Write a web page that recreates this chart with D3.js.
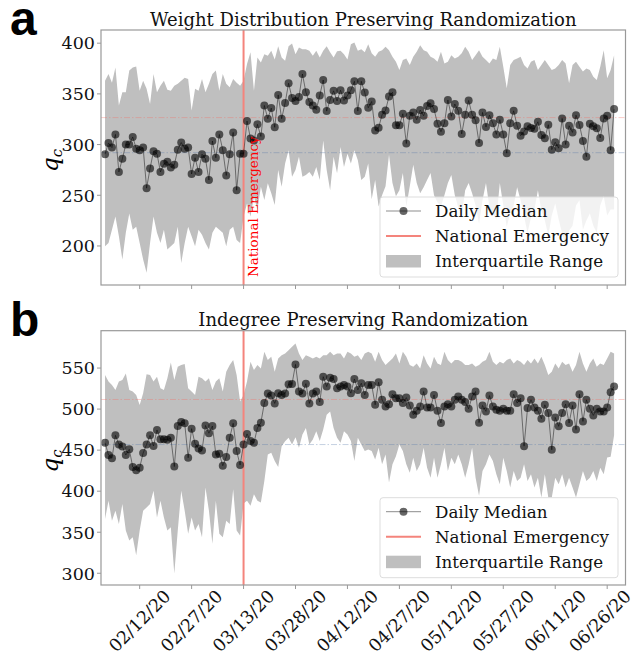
<!DOCTYPE html>
<html>
<head>
<meta charset="utf-8">
<script src="https://cdn.jsdelivr.net/npm/d3@7"></script>
<style>
  html, body { margin: 0; padding: 0; background: #fff; }
  svg { display: block; }
  text { font-family: "DejaVu Serif", serif; }
</style>
</head>
<body>
<svg id="chart" width="636" height="657"></svg>
<script>
// first day of the series, one point per day
const START_DATE = "2020-02-02";
const TICK_LABELS = ["02/12/20", "02/27/20", "03/13/20", "03/28/20", "04/12/20",
                     "04/27/20", "05/12/20", "05/27/20", "06/11/20", "06/26/20"];
const EMERGENCY = "03/13/20";

// panel a: weight distribution preserving randomization
const aMedian = [290.5, 301.6, 297, 310, 273, 286, 300, 300, 307.5, 296, 294.5, 297, 257, 276.5, 293.5, 291, 273, 281, 283, 277.5,
  280, 295, 302, 296, 297, 271, 287, 273, 290.5, 286, 265, 303.5, 287, 310, 294.5, 269.5, 290.5, 312, 255, 291, 291,
  323.2, 306, 304, 320, 308, 338.6, 325.5, 336, 317, 349, 325.5, 341, 360.5, 346, 343, 347, 369.6, 351.6, 342, 338.6,
  334.3, 348.4, 363.7, 333, 344, 353, 343, 353.6, 343.5, 348.4, 353.6, 362.4, 333, 362.4, 351.3, 336.3,
  342.5, 314, 316.7, 329.4, 333.7, 347.4, 351.6, 319, 319, 330.4, 301, 328.4, 331.7, 324.5, 334, 328.4, 338, 340.8, 335,
  320.6, 312.7, 321, 344, 327.8, 340, 333.3, 310.5, 329.4, 343.5, 329.4, 323.9, 301.6, 331.7, 317.3, 329, 321, 310, 324.5,
  310, 291.5, 321, 333.3, 318.6, 308.8, 313, 318, 316.3, 315.7, 322.5, 309.5, 306.2, 319.6, 295, 302.3, 296.4, 325.8, 300,
  318.6, 312, 329, 319.3, 303.6, 288, 320.6, 318, 316, 306.5, 325.8, 328.4, 294.4, 335];
const aQ3 = [363, 369.6, 361, 376, 338.5, 351.6, 351.6, 373, 376, 377, 353, 363, 355, 340, 369.6, 351.6, 358, 363, 354, 353,
  358, 360, 363, 366, 364.7, 333.7, 355, 353, 364.7, 351.6, 360, 369.6, 373, 353, 369.6, 360, 356.5, 364.7, 361, 358, 363,
  379.4, 391, 353, 386, 381, 389, 387.6, 392.5, 384, 397, 386, 382.7, 397, 399.7, 389, 395.8, 394, 394, 392.5, 387.6,
  392.5, 386, 392.5, 397, 391, 386, 392, 392.5, 389, 384, 399, 400.6, 392.5, 394, 391, 399,
  390, 386.6, 391.5, 393, 396.4, 393, 386.6, 381.7, 373.5, 383.3, 385, 378.4, 386.6, 391.5, 398, 393, 391.5, 386.6, 385,
  381.7, 391.5, 380, 381.7, 388, 385, 386.6, 390, 396.4, 391.5, 383.3, 388, 393, 386.6, 383.3, 380, 385, 383.3, 396.4,
  376.8, 355.6, 378.4, 383.3, 385, 386.6, 378.4, 375, 381.7, 383.3, 373.5, 378.4, 383.3, 378.4, 373.5, 375, 378.4, 383.3,
  380, 360.5, 378.4, 381.7, 376.8, 372, 375, 373.5, 367, 363.7, 376.8, 393, 365.4, 373.5, 388];
const aQ1 = [199.7, 203, 216, 229, 209.5, 186.6, 213, 232, 216, 219, 203, 186.6, 173.5, 203, 229, 213, 203, 216, 196.6, 199.7,
  203, 219, 183.3, 203, 219, 209.5, 199.7, 216, 211, 203, 196.6, 213, 219, 216, 213, 199.7, 216, 219, 206, 203, 229,
  242, 229, 248.7, 235.6, 258.5, 245.4, 261.8, 252, 240.5, 274.8, 258.5, 281.4, 294.4, 268.3, 274.8, 288, 268.3, 270, 273,
  268.3, 278, 265, 304, 274.8, 255, 288, 271.6, 297.7, 278, 291, 281.4, 294.4, 284.6, 265, 268.3, 281.4,
  246, 265, 239, 250, 259, 290, 262, 249, 255, 272, 239, 259, 280, 262, 252, 258, 265, 272, 250, 243, 239, 250, 262, 270,
  250, 238, 230, 255, 262, 252, 240, 222, 245, 262, 238, 232, 226, 262, 240, 219, 232, 240, 258, 245, 229, 213, 228, 236,
  255, 235, 225, 210, 230, 242, 226, 212, 200, 215, 220, 240, 245, 216, 225, 232, 220, 213, 240, 249, 230, 236, 236];

// panel b: indegree preserving randomization
const bMedian = [459, 444, 440, 468, 457, 454.4, 444, 451, 429.4, 425.4, 428.6, 446.4, 457, 468, 455, 474.6, 463.3, 463.3,
  462.5, 465, 430, 479.4, 484.3, 482.7, 440.7, 476.2, 457.7, 452, 449.6, 480, 470.6, 479.4, 444.8, 445.6, 431, 441.5, 465,
  482.7, 448.8, 431.8, 457,
  469.8, 461, 458.9, 477, 483.5, 507.3, 519, 516.5, 506.9, 519.4, 517.3, 519, 530.2, 530.6, 554.4, 521.4, 519, 531, 506.9,
  519, 521.4, 508.5, 539.5, 527.4, 538.3, 536.7, 525.4, 527.4, 529.4, 527.4, 519.4, 536.7, 523.4, 531.5, 517.3, 529.4,
  529.4, 505.2, 532.7, 511.3, 503.2, 506, 518.1, 513.3, 513.3, 507.3, 514, 504.4, 493.1, 498, 503.2, 521.4, 502, 502,
  517.3, 498, 483, 503.2, 506, 503.2, 511.3, 515.3, 511.3, 508.5, 500.4, 515.3, 521.4, 483.5, 504.4, 497.2, 516.5, 503.2,
  499.2, 498,
  500.4, 498, 498, 518.1, 507.3, 513.3, 454.8, 501.2, 511.3, 502, 498, 488.3, 505.2, 495.2, 450.4, 489.9, 479, 495.2, 506,
  483, 504.4, 475, 518.1, 485, 511.3, 500.4, 492.3, 500.4, 497.2, 497.2, 502, 520.6, 527.4];
const bQ3 = [541.5, 533.5, 529.4, 523.4, 533.5, 535.5, 543.5, 523.4, 521.4, 517.3, 505, 519.4, 542.3, 541.5, 533.5, 539.5,
  525.4, 523.4, 537.5, 556.9, 535.5, 551.6, 553.6, 554.8, 525.4, 521.4, 517.3, 539.5, 537.5, 533.5, 537.5, 523.4, 533.5,
  537.5, 521.4, 545.6, 553.6, 559.7, 541.5, 509.3, 517.3,
  533.5, 557.7, 547.6, 553.6, 549.6, 569.8, 559.7, 563.7, 545.6, 561.7, 565.7, 567.7, 571.8, 575.8, 579.8, 567.7, 559.7,
  565.7, 563.7, 561.7, 563.7, 561.7, 565.7, 565.7, 569.8, 565.7, 567.7, 567.7, 561.7, 569.8, 567.7, 563.7, 565.7, 559.7,
  567.7, 569.8,
  567.7, 557.7, 569.8, 559.7, 553.6, 557.7, 561.7, 567.7, 555.6, 569.8, 563.7, 553.6, 551.6, 555.6, 549.6, 565.7, 555.6,
  549.6, 563.7, 555.6, 553.6, 569.8, 559.7, 555.6, 559.7, 559.7, 557.7, 553.6, 553.6, 555.6, 551.6, 553.6, 557.7, 559.7,
  569.8, 557.7, 553.6, 557.7,
  555.6, 559.7, 561.7, 555.6, 559.7, 557.7, 553.6, 559.7, 555.6, 561.7, 555.6, 563.7, 553.6, 541.5, 545.6, 555.6, 549.6,
  557.7, 553.6, 555.6, 545.6, 553.6, 569.8, 555.6, 545.6, 555.6, 561.7, 551.6, 555.6, 553.6, 561.7, 569.8, 567.7];
const bQ1 = [366, 388.3, 364, 376.2, 360, 384.3, 352, 340, 344, 321.8, 352, 376.2, 380.2, 384.3, 400.4, 368, 388.3, 368, 352,
  356, 299.6, 352, 400.4, 376.2, 348, 368, 352, 360, 344, 404.4, 376.2, 336, 388.3, 348, 344, 364, 360, 402.4, 352, 346, 385,
  388.3, 382.3, 396.4, 388.3, 386.3, 412.5, 444.8, 446.8, 436.7, 429.4, 454.8, 460.9, 465, 456.9, 465.7, 452.8, 469, 477,
  456.9, 462.9, 473, 461, 475, 493, 497, 477, 465, 458.9, 473, 469, 461, 436.7, 465, 456.9, 448.8, 450.8,
  448.8, 438.7, 452.8, 432.7, 444.8, 410.5, 432.7, 442.7, 456.9, 448.8, 432.7, 422.6, 440.7, 424.6, 432.7, 452.8, 428.6,
  416.5, 440.7, 416.5, 432.7, 452.8, 424.6, 440.7, 432.7, 444.8, 432.7, 416.5, 432.7, 452.8, 416.5, 394.4, 424.6, 432.7,
  444.8, 436.7, 420.6, 408.5,
  440.7, 424.6, 404.4, 424.6, 412.5, 416.5, 432.7, 412.5, 420.6, 404.4, 416.5, 392.3, 420.6, 392.3, 392.3, 416.5, 408.5,
  420.6, 404.4, 416.5, 404.4, 392.3, 408.5, 424.6, 412.5, 416.5, 424.6, 412.5, 428.6, 420.6, 441, 442, 468];

// dash-dot reference levels (post / pre emergency)
const aLevels = [326.6, 292];
const bLevels = [511.7, 456.8];
const aTicks = [200, 250, 300, 350, 400];
const bTicks = [300, 350, 400, 450, 500, 550];
const legendItems = ["Daily Median", "National Emergency", "Interquartile Range"];

const svg = d3.select("#chart");
const parseDay = d3.timeParse("%Y-%m-%d");
const parseTick = d3.timeParse("%m/%d/%y");
const start = parseDay(START_DATE);
const dates = aMedian.map((_, i) => d3.timeDay.offset(start, i));

const left = 101, right = 625.5;
const x = d3.scaleTime()
    .domain([d3.timeHour.offset(start, -28), d3.timeHour.offset(dates[dates.length - 1], 79)])
    .range([left, right]);

const EMERGENCY_COLOR = "#f4847c";

function drawPanel(p) {
    const g = svg.append("g");
    const y = d3.scaleLinear().domain(p.yDomain).range([p.bottom, p.top]);
    const rows = dates.map((d, i) => ({ date: d, med: p.median[i], lo: p.q1[i], hi: p.q3[i] }));

    const clipId = "clip-" + p.letter;
    g.append("clipPath").attr("id", clipId).append("rect")
        .attr("x", left).attr("y", p.top).attr("width", right - left).attr("height", p.bottom - p.top);
    const plot = g.append("g").attr("clip-path", `url(#${clipId})`);

    plot.append("path").datum(rows)
        .attr("d", d3.area().x(d => x(d.date)).y0(d => y(d.lo)).y1(d => y(d.hi)))
        .attr("fill", "#bfbfbf");

    // reference levels
    const levelColors = ["rgba(240,110,100,0.35)", "rgba(90,120,170,0.35)"];
    p.levels.forEach((v, k) => {
        plot.append("line")
            .attr("x1", left).attr("x2", right).attr("y1", y(v)).attr("y2", y(v))
            .attr("stroke", levelColors[k]).attr("stroke-width", 1)
            .attr("stroke-dasharray", "6,2,1.5,2");
    });

    const ex = x(parseTick(EMERGENCY));
    plot.append("line")
        .attr("x1", ex).attr("x2", ex).attr("y1", p.top).attr("y2", p.bottom)
        .attr("stroke", EMERGENCY_COLOR).attr("stroke-width", 2);

    plot.append("path").datum(rows)
        .attr("d", d3.line().x(d => x(d.date)).y(d => y(d.med)))
        .attr("fill", "none").attr("stroke", "rgba(0,0,0,0.5)").attr("stroke-width", 0.9);

    plot.selectAll("circle.pt").data(rows).enter().append("circle")
        .attr("class", "pt")
        .attr("cx", d => x(d.date)).attr("cy", d => y(d.med)).attr("r", 4)
        .attr("fill", "#000").attr("fill-opacity", 0.6);

    if (p.emergencyText) {
        g.append("text")
            .attr("transform", `translate(${ex + 14},${p.bottom - 8}) rotate(-90)`)
            .attr("fill", "red").style("font-size", "13.5px")
            .text("National Emergency");
    }

    // frame
    g.append("rect")
        .attr("x", left).attr("y", p.top).attr("width", right - left).attr("height", p.bottom - p.top)
        .attr("fill", "none").attr("stroke", "#999").attr("stroke-width", 1.2);

    // y axis
    p.yTicks.forEach(t => {
        g.append("line").attr("x1", left - 4).attr("x2", left).attr("y1", y(t)).attr("y2", y(t))
            .attr("stroke", "#999");
        g.append("text").attr("x", left - 6).attr("y", y(t)).attr("dy", "0.36em")
            .attr("text-anchor", "end").style("font-size", "17.5px").attr("fill", "#111").text(t);
    });

    // x ticks, labels turned 45 degrees and centred under the tick
    const fs = 17.5;
    TICK_LABELS.forEach(lab => {
        const tx = x(parseTick(lab));
        g.append("line").attr("x1", tx).attr("x2", tx).attr("y1", p.bottom).attr("y2", p.bottom + 4)
            .attr("stroke", "#999");
        if (p.xLabels) {
            const t = g.append("text").style("font-size", fs + "px").attr("fill", "#111")
                .attr("text-anchor", "middle").attr("dominant-baseline", "central").text(lab);
            const w = t.node().getComputedTextLength();
            const c = (w + 1.17 * fs) * Math.SQRT1_2 / 2;
            t.attr("transform", `translate(${Math.min(tx, 600)},${p.bottom + 1 + c}) rotate(-45)`);
        }
    });

    // y label
    const yl = g.append("text")
        .attr("transform", `translate(58,${(p.top + p.bottom) / 2 + 3}) rotate(-90)`)
        .attr("text-anchor", "middle").style("font-size", "23px").style("font-style", "italic");
    yl.append("tspan").text("q");
    yl.append("tspan").attr("dy", "0.25em").style("font-size", "15px").text("c");

    // title
    g.append("text").attr("x", (left + right) / 2).attr("y", p.top - 4.5)
        .attr("text-anchor", "middle").style("font-size", "18px").attr("fill", "#111").text(p.title);

    // panel letter
    g.append("text").attr("x", 10).attr("y", p.top + 5)
        .style("font-family", "'Liberation Sans', Arial, sans-serif").style("font-weight", "bold")
        .style("font-size", "48px").text(p.letter);

    // legend
    const lx = 380, ly = p.top + 167, lw = 238, lh = 80;
    const lg = g.append("g");
    lg.append("rect").attr("x", lx).attr("y", ly).attr("width", lw).attr("height", lh).attr("rx", 3)
        .attr("fill", "rgba(255,255,255,0.8)").attr("stroke", "#ddd");
    legendItems.forEach((name, k) => {
        const cy = ly + 14 + k * 25;
        if (k === 0) {
            lg.append("line").attr("x1", lx + 6).attr("x2", lx + 41).attr("y1", cy).attr("y2", cy)
                .attr("stroke", "rgba(0,0,0,0.5)").attr("stroke-width", 0.9);
            lg.append("circle").attr("cx", lx + 23.5).attr("cy", cy).attr("r", 4)
                .attr("fill", "#000").attr("fill-opacity", 0.6);
        } else if (k === 1) {
            lg.append("line").attr("x1", lx + 6).attr("x2", lx + 41).attr("y1", cy).attr("y2", cy)
                .attr("stroke", EMERGENCY_COLOR).attr("stroke-width", 2);
        } else {
            lg.append("rect").attr("x", lx + 6).attr("y", cy - 6).attr("width", 35).attr("height", 12.5)
                .attr("fill", "#bfbfbf");
        }
        lg.append("text").attr("x", lx + 55).attr("y", cy).attr("dy", "0.36em")
            .style("font-size", "16.7px").attr("fill", "#111").text(name);
    });
}

drawPanel({
    letter: "a", title: "Weight Distribution Preserving Randomization",
    top: 30, bottom: 285, yDomain: [161.5, 413], yTicks: aTicks,
    median: aMedian, q1: aQ1, q3: aQ3, levels: aLevels,
    emergencyText: true, xLabels: false
});
drawPanel({
    letter: "b", title: "Indegree Preserving Randomization",
    top: 330.7, bottom: 585, yDomain: [285.7, 595.5], yTicks: bTicks,
    median: bMedian, q1: bQ1, q3: bQ3, levels: bLevels,
    emergencyText: false, xLabels: true
});
</script>
</body>
</html>
